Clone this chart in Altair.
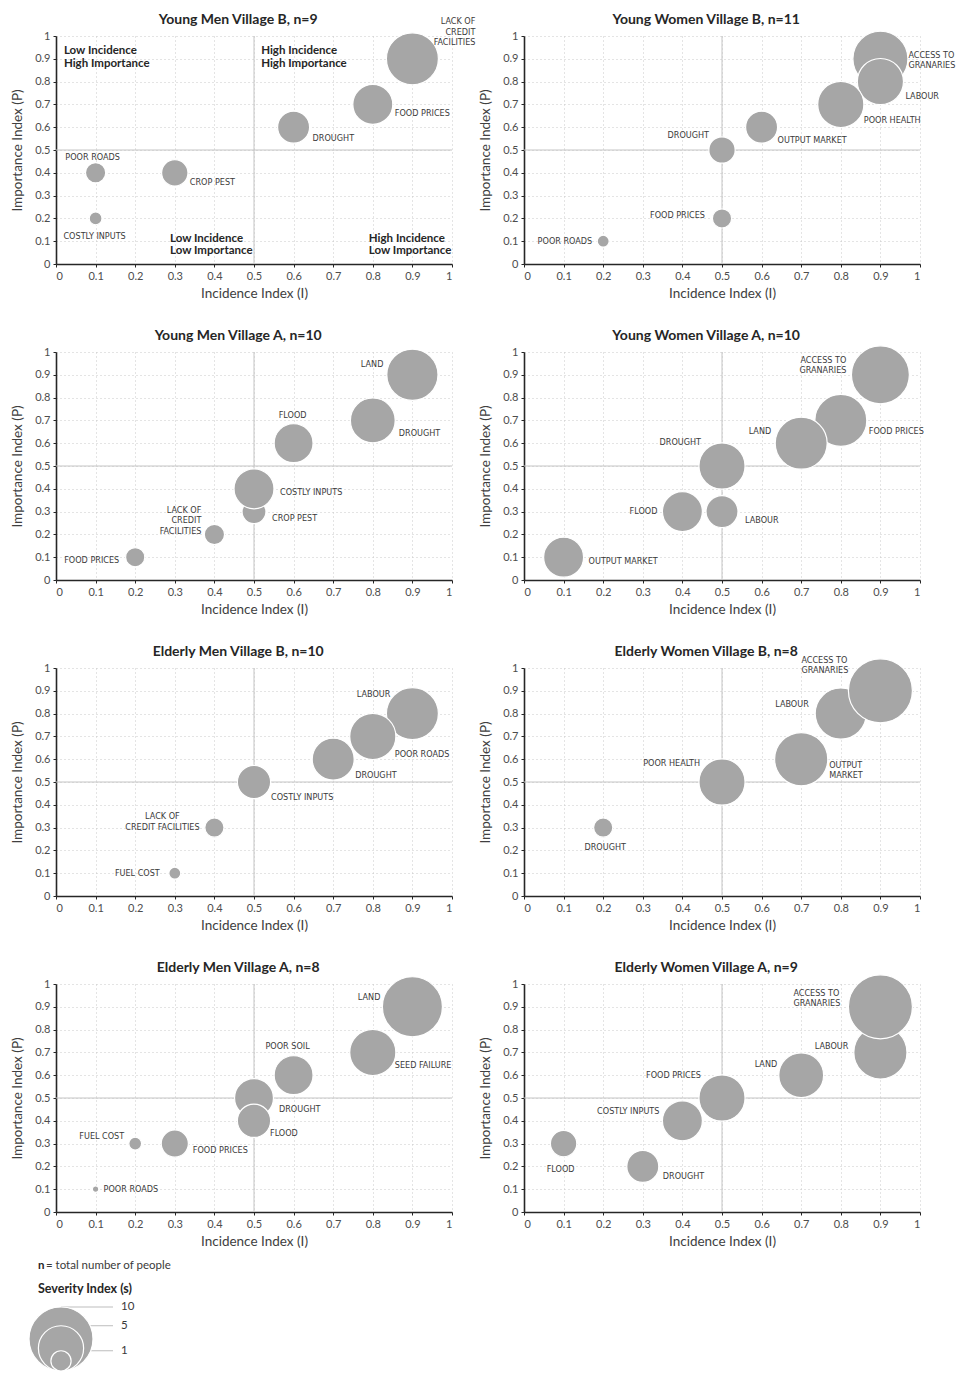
import math
import altair as alt
import pandas as pd

# ---------------------------------------------------------------------------
# Risk ranking: incidence (I), importance (P) and severity (s) per group
# ---------------------------------------------------------------------------

# Young Men, Village B (n=9)
ymb_risk = ["LACK OF\nCREDIT\nFACILITIES", "FOOD PRICES", "DROUGHT", "POOR ROADS", "CROP PEST", "COSTLY INPUTS"]
ymb_inc = [0.9, 0.8, 0.6, 0.1, 0.3, 0.1]
ymb_imp = [0.9, 0.7, 0.6, 0.4, 0.4, 0.2]
ymb_sev = [6.6, 3.9, 2.5, 1.0, 1.7, 0.4]

# Young Women, Village B (n=11)
ywb_risk = ["ACCESS TO\nGRANARIES", "LABOUR", "POOR HEALTH", "OUTPUT MARKET", "DROUGHT", "FOOD PRICES", "POOR ROADS"]
ywb_inc = [0.9, 0.9, 0.8, 0.6, 0.5, 0.5, 0.2]
ywb_imp = [0.9, 0.8, 0.7, 0.6, 0.5, 0.2, 0.1]
ywb_sev = [7.4, 5.2, 5.2, 2.5, 1.7, 0.9, 0.35]

# Young Men, Village A (n=10)
yma_risk = ["LAND", "DROUGHT", "FLOOD", "CROP PEST", "COSTLY INPUTS", "LACK OF\nCREDIT\nFACILITIES", "FOOD PRICES"]
yma_inc = [0.9, 0.8, 0.6, 0.5, 0.5, 0.4, 0.2]
yma_imp = [0.9, 0.7, 0.6, 0.3, 0.4, 0.2, 0.1]
yma_sev = [6.4, 4.9, 3.7, 1.4, 3.9, 1.0, 0.9]

# Young Women, Village A (n=10)
ywa_risk = ["ACCESS TO\nGRANARIES", "FOOD PRICES", "LAND", "DROUGHT", "FLOOD", "LABOUR", "OUTPUT MARKET"]
ywa_inc = [0.9, 0.8, 0.7, 0.5, 0.4, 0.5, 0.1]
ywa_imp = [0.9, 0.7, 0.6, 0.5, 0.3, 0.3, 0.1]
ywa_sev = [8.2, 6.6, 6.6, 5.2, 3.9, 2.5, 3.9]

# Elderly Men, Village B (n=10)
emb_risk = ["LABOUR", "POOR ROADS", "DROUGHT", "COSTLY INPUTS", "LACK OF\nCREDIT FACILITIES", "FUEL COST"]
emb_inc = [0.9, 0.8, 0.7, 0.5, 0.4, 0.3]
emb_imp = [0.8, 0.7, 0.6, 0.5, 0.3, 0.1]
emb_sev = [6.6, 5.2, 4.3, 2.7, 0.9, 0.35]

# Elderly Women, Village B (n=8)
ewb_risk = ["LABOUR", "ACCESS TO\nGRANARIES", "OUTPUT\nMARKET", "POOR HEALTH", "DROUGHT"]
ewb_inc = [0.8, 0.9, 0.7, 0.5, 0.2]
ewb_imp = [0.8, 0.9, 0.6, 0.5, 0.3]
ewb_sev = [6.4, 10.0, 6.9, 5.2, 0.9]

# Elderly Men, Village A (n=8)
ema_risk = ["LAND", "SEED FAILURE", "POOR SOIL", "DROUGHT", "FLOOD", "FOOD PRICES", "FUEL COST", "POOR ROADS"]
ema_inc = [0.9, 0.8, 0.6, 0.5, 0.5, 0.3, 0.2, 0.1]
ema_imp = [0.9, 0.7, 0.6, 0.5, 0.4, 0.3, 0.3, 0.1]
ema_sev = [8.8, 5.2, 3.7, 3.7, 2.7, 1.8, 0.4, 0.1]

# Elderly Women, Village A (n=9)
ewa_risk = ["LABOUR", "ACCESS TO\nGRANARIES", "LAND", "FOOD PRICES", "COSTLY INPUTS", "DROUGHT", "FLOOD"]
ewa_inc = [0.9, 0.9, 0.7, 0.5, 0.4, 0.3, 0.1]
ewa_imp = [0.7, 0.9, 0.6, 0.5, 0.4, 0.2, 0.3]
ewa_sev = [6.9, 10.0, 4.9, 5.2, 3.9, 2.5, 1.7]

AXIS_TICKS = [0, 0.1, 0.2, 0.3, 0.4, 0.5, 0.6, 0.7, 0.8, 0.9, 1]
LEGEND_SEVERITY = [10, 5, 1]

# ---------------------------------------------------------------------------
# Label placement: (dx px, dy px, text alignment) of the label block centre
# relative to the bubble centre
# ---------------------------------------------------------------------------
ymb_place = [(63, -27, "right"), (22, 9, "left"), (19, 11, "left"), (-3, -16, "center"),
             (15, 9, "left"), (-1, 18, "center")]
ywb_place = [(28, 1, "left"), (25, 14, "left"), (23, 16, "left"), (16, 13, "left"),
             (-13, -15, "right"), (-17, -3, "right"), (-11, 0, "right")]
yma_place = [(-29, -11, "right"), (26, 13, "left"), (-1, -28, "center"), (18, 6, "left"),
             (26, 3, "left"), (-13, -14, "right"), (-16, 3, "right")]
ywa_place = [(-34, -10, "right"), (28, 11, "left"), (-30, -12, "right"), (-21, -24, "right"),
             (-25, -1, "right"), (23, 8, "left"), (25, 4, "left")]
emb_place = [(-22, -20, "right"), (22, 18, "left"), (22, 16, "left"), (17, 15, "left"),
             (-52, -6, "center"), (-15, 0, "right")]
ewb_place = [(-32, -10, "right"), (-79, -26, "left"), (28, 11, "left"), (-22, -19, "right"),
             (2, 19, "center")]
ema_place = [(-32, -10, "right"), (22, 13, "left"), (-6, -29, "center"), (25, 11, "left"),
             (16, 12, "left"), (18, 6, "left"), (-11, -8, "right"), (8, 0, "left")]
ewa_place = [(-32, -6, "right"), (-87, -9, "left"), (-24, -11, "right"), (-21, -23, "right"),
             (-23, -10, "right"), (20, 10, "left"), (-3, 25, "center")]

# Quadrant captions of the first panel (block centres, data coordinates)
quad_text = ["Low Incidence\nHigh Importance", "High Incidence\nHigh Importance",
             "Low Incidence\nLow Importance", "High Incidence\nLow Importance"]
quad_x = [0.02, 0.518, 0.288, 0.79]
quad_y = [0.906, 0.906, 0.083, 0.083]

# ---------------------------------------------------------------------------
# Styling
# ---------------------------------------------------------------------------
W, H = 396, 228
ROW_GAP, COL_GAP = 88, 72
SIZE_PER_S = 409.6           # bubble area (px^2) per unit of severity
FILL = "#a6a6a6"
TEXT = "#3a3a3a"
FONT = "Lato"
LABEL_FONT = "'DejaVu Sans Condensed', 'Liberation Sans Narrow', Roboto, sans-serif"
LABEL_LH = 10.5
NOTE_LH = 12.5
TITLE_X, TITLE_RISE = 0.46, 16   # panel title centre (data x, px above the plot)

size_scale = alt.Scale(domain=[0, 10], range=[0, 10 * SIZE_PER_S], zero=True)
xs = alt.Scale(domain=[0, 1], nice=False, zero=False)
ys = alt.Scale(domain=[0, 1], nice=False, zero=False)
xax = alt.Axis(values=AXIS_TICKS, format=".1~f", title="Incidence Index (I)")
yax = alt.Axis(values=AXIS_TICKS, format=".1~f", title="Importance Index (P)")


def X(field):
    return alt.X(field, scale=xs, axis=xax)


def Y(field):
    return alt.Y(field, scale=ys, axis=yax)


def first_line_shift(text, lh):
    # vega anchors the first line of a multi-line label; shift so the block is centred
    return (text.count("\n")) * lh / 2


def panel(title, risk, inc, imp, sev, place, notes=False, extra=()):
    df = pd.DataFrame({"risk": risk, "I": inc, "P": imp, "s": sev})
    df["z"] = list(range(len(df)))
    df["lx"] = [i + p[0] / W for i, p in zip(inc, place)]
    df["ly"] = [v - (p[1] - first_line_shift(t, LABEL_LH)) / H
                for v, p, t in zip(imp, place, risk)]
    df["align"] = [p[2] for p in place]

    base = alt.Chart(df)
    bubbles = base.mark_circle(opacity=1, stroke="white", strokeWidth=1.2, color=FILL).encode(
        x=X("I:Q"), y=Y("P:Q"),
        size=alt.Size("s:Q", scale=size_scale, legend=None),
        order=alt.Order("z:Q"),
    )
    mid = pd.DataFrame({"v": [0.5]})
    vline = alt.Chart(mid).mark_rule(color="#c4c4c4", strokeWidth=1).encode(x=X("v:Q"))
    hline = alt.Chart(mid).mark_rule(color="#c4c4c4", strokeWidth=1).encode(y=Y("v:Q"))

    tdf = pd.DataFrame({"t": [title], "x": [TITLE_X], "y": [1 + TITLE_RISE / H]})
    head = alt.Chart(tdf).mark_text(align="center", baseline="middle", font=FONT, fontSize=14,
                                    fontWeight="bold", color="#262626").encode(
        x=X("x:Q"), y=Y("y:Q"), text="t:N")

    layers = [vline, hline, bubbles, head]
    for a in ["left", "center", "right"]:
        layers.append(
            base.transform_filter(alt.datum.align == a)
            .mark_text(align=a, baseline="middle", font=LABEL_FONT, fontSize=9,
                       lineBreak="\n", lineHeight=LABEL_LH, color=TEXT)
            .encode(x=X("lx:Q"), y=Y("ly:Q"), text="risk:N")
        )
    if notes:
        qdf = pd.DataFrame({"t": quad_text, "x": quad_x,
                            "y": [v + first_line_shift(t, NOTE_LH) / H
                                  for v, t in zip(quad_y, quad_text)]})
        layers.append(
            alt.Chart(qdf).mark_text(align="left", baseline="middle", font=FONT, fontSize=11.5,
                                     fontWeight="bold", lineBreak="\n", lineHeight=NOTE_LH,
                                     color="#262626")
            .encode(x=X("x:Q"), y=Y("y:Q"), text="t:N")
        )
    layers.extend(extra)
    return alt.layer(*layers).properties(width=W, height=H)


# ---------------------------------------------------------------------------
# Severity legend, drawn below the bottom-left panel with the same size scale.
# Offsets are pixels from that panel's bottom-left corner (dy downwards).
# ---------------------------------------------------------------------------
LG_CX, LG_BOTTOM = 5, 159          # bubble centre line and common baseline
LG_LINE_END, LG_LABEL_X = 57, 65
LG_HEAD_TEXT = ["n", "= total number of people", "Severity Index (s)"]
LG_HEAD_X = [-18, -10, -18]
LG_HEAD_Y = [54, 54, 77]
LG_HEAD_BOLD = [True, False, True]
LG_HEAD_SIZE = [11.5, 11.5, 12.5]


def px_x(dx):
    return dx / W


def px_y(dy):
    return -dy / H


diam = [math.sqrt(SIZE_PER_S * s) for s in LEGEND_SEVERITY]
leg = pd.DataFrame({
    "s": LEGEND_SEVERITY,
    "label": [str(s) for s in LEGEND_SEVERITY],
    "cx": [px_x(LG_CX)] * len(LEGEND_SEVERITY),
    "cy": [px_y(LG_BOTTOM - d / 2) for d in diam],
    "top": [px_y(LG_BOTTOM - d) for d in diam],
    "x_end": [px_x(LG_LINE_END)] * len(LEGEND_SEVERITY),
    "lab_x": [px_x(LG_LABEL_X)] * len(LEGEND_SEVERITY),
})
leg_base = alt.Chart(leg)
leg_lines = leg_base.mark_rule(color="#bdbdbd", strokeWidth=1).encode(
    x=X("cx:Q"), x2="x_end:Q", y=Y("top:Q"))
leg_bubbles = leg_base.mark_circle(opacity=1, stroke="white", strokeWidth=1.2, color=FILL).encode(
    x=X("cx:Q"), y=Y("cy:Q"),
    size=alt.Size("s:Q", scale=size_scale, legend=None),
    order=alt.Order("s:Q", sort="descending"),
)
leg_labels = leg_base.mark_text(align="left", baseline="middle", font=FONT, fontSize=11.5,
                                color=TEXT).encode(x=X("lab_x:Q"), y=Y("top:Q"), text="label:N")
hdf = pd.DataFrame({
    "t": LG_HEAD_TEXT,
    "x": [px_x(v) for v in LG_HEAD_X],
    "y": [px_y(v) for v in LG_HEAD_Y],
    "bold": LG_HEAD_BOLD,
    "fs": LG_HEAD_SIZE,
})
leg_head_b = alt.Chart(hdf).transform_filter(alt.datum.bold).mark_text(
    align="left", baseline="middle", font=FONT, fontWeight="bold", color="#262626"
).encode(x=X("x:Q"), y=Y("y:Q"), text="t:N", size=alt.Size("fs:Q", scale=None))
leg_head_t = alt.Chart(hdf).transform_filter(~alt.datum.bold).mark_text(
    align="left", baseline="middle", font=FONT, color=TEXT
).encode(x=X("x:Q"), y=Y("y:Q"), text="t:N", size=alt.Size("fs:Q", scale=None))
legend_layers = [leg_lines, leg_bubbles, leg_labels, leg_head_b, leg_head_t]

# ---------------------------------------------------------------------------
# Panels
# ---------------------------------------------------------------------------
p_ymb = panel("Young Men Village B, n=9", ymb_risk, ymb_inc, ymb_imp, ymb_sev, ymb_place, notes=True)
p_ywb = panel("Young Women Village B, n=11", ywb_risk, ywb_inc, ywb_imp, ywb_sev, ywb_place)
p_yma = panel("Young Men Village A, n=10", yma_risk, yma_inc, yma_imp, yma_sev, yma_place)
p_ywa = panel("Young Women Village A, n=10", ywa_risk, ywa_inc, ywa_imp, ywa_sev, ywa_place)
p_emb = panel("Elderly Men Village B, n=10", emb_risk, emb_inc, emb_imp, emb_sev, emb_place)
p_ewb = panel("Elderly Women Village B, n=8", ewb_risk, ewb_inc, ewb_imp, ewb_sev, ewb_place)
p_ema = panel("Elderly Men Village A, n=8", ema_risk, ema_inc, ema_imp, ema_sev, ema_place,
              extra=legend_layers)
p_ewa = panel("Elderly Women Village A, n=9", ewa_risk, ewa_inc, ewa_imp, ewa_sev, ewa_place)

chart = (
    alt.concat(p_ymb, p_ywb, p_yma, p_ywa, p_emb, p_ewb, p_ema, p_ewa,
               columns=2, spacing={"row": ROW_GAP, "column": COL_GAP}, bounds="flush")
    .properties(padding={"left": 10, "top": 13, "right": 0, "bottom": 0}, background="white")
    .configure_view(stroke=None)
    .configure_axis(
        labelFont=FONT, labelFontSize=11, labelColor="#4d4d4d", labelPadding=3,
        labelOverlap=False,
        titleFont=FONT, titleFontSize=13.5, titleFontWeight="normal", titleColor="#404040",
        domainColor="#262626", domainWidth=1.6, tickColor="#262626", tickSize=3,
        grid=True, gridColor="#c8c8c8", gridDash=[1, 3], gridWidth=1,
    )
    .configure_axisY(titlePadding=10)
    .configure_axisX(titlePadding=5)
)

chart.save("out.html", embed_options={"renderer": "svg", "actions": False})
